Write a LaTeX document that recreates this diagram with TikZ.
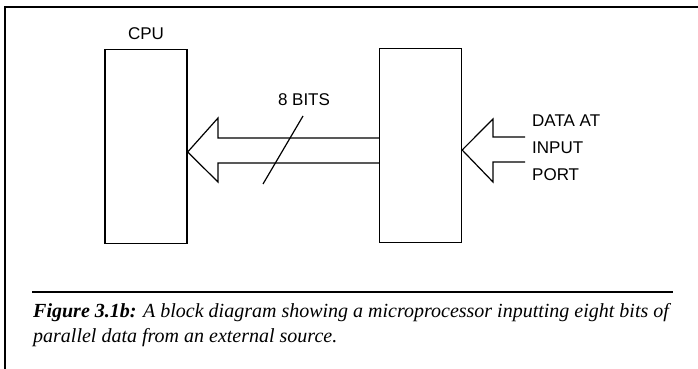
\documentclass[tikz,border=0pt]{standalone}
\usepackage{fontspec}
\setmainfont{Liberation Serif}
\setsansfont{Liberation Sans}
\usepackage{tikz}
\usetikzlibrary{positioning}

\begin{document}
\begin{tikzpicture}[x=1pt, y=-1pt,
  block/.style={draw, line width=1.3pt, minimum width=82pt, minimum height=194pt, inner sep=0pt},
  fat/.style={line width=1.2pt, line join=miter},
  label/.style={font=\sffamily\fontsize{17}{27}\selectfont, inner sep=0pt}
]
\useasboundingbox (0,0) rectangle (698,369);
% frame
\draw[line width=1.3pt] (698,7) -- (5,7) -- (5,369);
% blocks
\node[block] (cpu) at (146,146.5) {};
\node[block] (io) at (420.5,145.5) {};
\node[label, above=9pt of cpu] (cpulbl) {CPU};
% bus into the cpu
\coordinate (tipL) at (cpu.east |- 0,152);
\draw[fat] (io.west |- 0,138) -- (218,138) -- (218,118) -- (tipL) -- (218,182) -- (218,163) -- (io.west |- 0,163);
\coordinate (slashA) at (263,184);
\coordinate (slashB) at (303,116);
\draw[line width=1.2pt] (slashA) -- (slashB);
\node[label] (bits) at (304,100) {8 BITS};
% data coming in
\coordinate (tipR) at (io.east |- 0,150);
\draw[fat] (525,137) -- (493,137) -- (493,119) -- (tipR) -- (493,182) -- (493,162) -- (525,162);
\node[label, anchor=west, align=left] (data) at (532,148) {DATA AT\\INPUT\\PORT};
% caption
\draw[line width=1.3pt] (32,292) -- (673,292);
\node[anchor=north west, align=left, inner sep=0pt, font=\itshape\fontsize{20}{25}\selectfont] (cap) at (33,303)
  {\textbf{Figure 3.1b:} A block diagram showing a microprocessor inputting eight bits of\\parallel data from an external source.};
\end{tikzpicture}
\end{document}
